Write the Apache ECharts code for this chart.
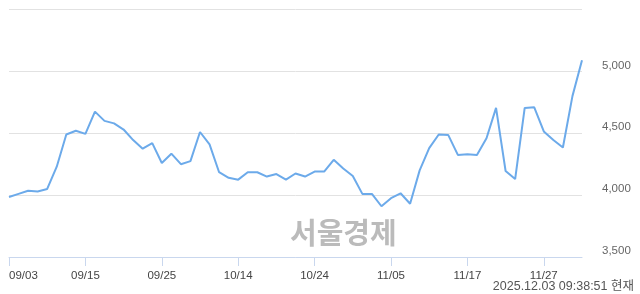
<!DOCTYPE html>
<html>
<head>
<meta charset="utf-8">
<script src="https://cdn.jsdelivr.net/npm/echarts@6/dist/echarts.min.js"></script>
<style>html,body{margin:0;padding:0;background:#fff}#c{width:640px;height:294px}</style>
</head>
<body>
<div id="c"></div>
<script>
const dates = ['09/03','09/04','09/05','09/08','09/09','09/10','09/11','09/12','09/15','09/16','09/17','09/18','09/19','09/22','09/23','09/24','09/25','09/26','09/29','09/30','10/01','10/02','10/10','10/13','10/14','10/15','10/16','10/17','10/20','10/21','10/22','10/23','10/24','10/27','10/28','10/29','10/30','10/31','11/03','11/04','11/05','11/06','11/07','11/10','11/11','11/12','11/13','11/14','11/17','11/18','11/19','11/20','11/21','11/24','11/25','11/26','11/27','11/28','12/01','12/02','12/03'];
const prices = [3985,4010,4035,4030,4050,4230,4490,4520,4495,4675,4600,4580,4530,4445,4375,4420,4260,4335,4250,4275,4510,4410,4185,4140,4125,4185,4185,4150,4170,4125,4175,4150,4190,4190,4285,4215,4155,4010,4010,3910,3975,4015,3930,4200,4380,4490,4485,4325,4330,4325,4460,4705,4195,4130,4705,4710,4515,4445,4385,4800,5090];
const yMin = 3500, yMax = 5500, yStep = 500;
const watermark = '서울경제';
const stamp = '2025.12.03 09:38:51 현재';

const chart = echarts.init(document.getElementById('c'), null, {renderer: 'canvas'});
chart.setOption({
  animation: false,
  grid: {left: 9, right: 58, top: 9.5, bottom: 37, containLabel: false},
  xAxis: {
    type: 'category', data: dates, boundaryGap: false,
    axisLine: {lineStyle: {color: '#c9d7ee', width: 1}},
    axisTick: {interval: 7, length: 9, lineStyle: {color: '#c9d7ee'}},
    axisLabel: {interval: 7, color: '#444', fontSize: 11.5, fontFamily: 'Liberation Sans', margin: 13, alignMinLabel: 'left'},
    splitLine: {show: false}
  },
  yAxis: {
    type: 'value', position: 'right', min: yMin, max: yMax, interval: yStep,
    axisLine: {show: false}, axisTick: {show: false},
    axisLabel: {
      color: '#666', fontSize: 11.5, fontFamily: 'Liberation Sans', margin: 20, verticalAlign: 'bottom',
      formatter: v => v >= yMax ? '' : v.toLocaleString('en-US')
    },
    splitLine: {lineStyle: {color: '#e2e2e2', width: 1}}
  },
  graphic: [
    {type: 'text', left: 290, top: 218, z: 0, style: {text: watermark, fill: '#bbbbbb', font: 'bold 29px "Noto Sans CJK KR"'}},
    {type: 'text', right: 6, top: 280, style: {text: stamp, fill: '#555', font: '12.5px "Liberation Sans", "Noto Sans CJK KR"'}}
  ],
  series: [{
    type: 'line', data: prices, showSymbol: false, smooth: false, z: 5,
    lineStyle: {color: '#6caaea', width: 2}
  }]
});
</script>
</body>
</html>
